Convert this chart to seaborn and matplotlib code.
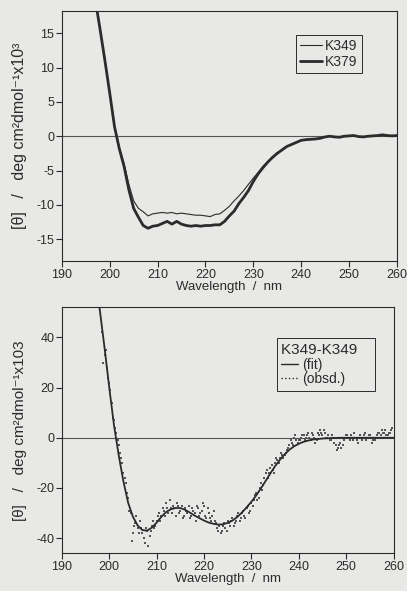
import numpy as np
import pandas as pd
import matplotlib
matplotlib.use("Agg")
import matplotlib.pyplot as plt
from matplotlib.lines import Line2D
import seaborn as sns

# ---------------- data ----------------
wl_top = list(range(197, 261))
k379 = [19.8, 15.5, 11.0, 6.3, 1.4, -1.8, -4.4, -7.8, -10.5, -11.8,
        -13.0, -13.4, -13.1, -13.0, -12.7, -12.4, -12.8, -12.4, -12.8, -13.0,
        -13.1, -13.0, -13.1, -13.0, -13.0, -12.9, -12.9, -12.4, -11.6, -10.9,
        -9.8, -8.9, -7.9, -6.6, -5.5, -4.6, -3.8, -3.1, -2.5, -2.0,
        -1.5, -1.2, -0.9, -0.6, -0.5, -0.45, -0.4, -0.3, -0.1, 0.0,
        -0.1, -0.15, 0.0, 0.05, 0.1, -0.05, -0.1, 0.0, 0.05, 0.1,
        0.2, 0.1, 0.05, 0.1]
k349 = [19.8, 15.5, 11.0, 6.3, 1.4, -1.6, -4.0, -7.0, -9.4, -10.5,
        -11.0, -11.6, -11.3, -11.2, -11.1, -11.2, -11.1, -11.3, -11.2, -11.3,
        -11.4, -11.5, -11.5, -11.6, -11.7, -11.4, -11.3, -10.8, -10.2, -9.4,
        -8.7, -7.9, -7.0, -6.1, -5.3, -4.4, -3.7, -3.0, -2.4, -2.0,
        -1.5, -1.2, -0.9, -0.6, -0.5, -0.45, -0.4, -0.3, -0.1, 0.0,
        -0.1, -0.15, 0.0, 0.05, 0.1, -0.05, -0.1, 0.0, 0.05, 0.1,
        0.2, 0.1, 0.05, 0.1]

wl_fit = list(range(197, 261))
fit = [62, 51, 36, 20, 5, -7, -17.5, -26, -31.5, -35,
       -36.8, -37, -35.8, -33.8, -31.5, -29.6, -28.5, -28, -28, -28.7,
       -29.8, -31, -32, -33, -33.8, -34.3, -34.6, -34.5, -33.9, -33,
       -31.6, -29.8, -27.7, -25.5, -23, -20.2, -17.2, -14.2, -11.3, -8.8,
       -6.6, -4.8, -3.4, -2.4, -1.6, -1.1, -0.7, -0.5, -0.3, -0.2,
       -0.1, -0.05, 0, 0, 0, 0, 0, 0, 0, 0,
       0, 0, 0, 0]

obs_a = [42, 33, 28, 22, 14, 7, 2, -3, -8, -14,
         -18, -24, -30, -38, -34, -36, -33, -38, -42, -37,
         -39, -35, -36, -33, -30, -31, -29, -26, -30, -28,
         -27, -31, -27, -29, -32, -28, -30, -32, -28, -30,
         -27, -31, -29, -27, -32, -30, -33, -29, -34, -37,
         -38, -35, -36, -33, -35, -32, -34, -31, -33, -30,
         -31, -28, -30, -26, -25, -22, -24, -18, -19, -14,
         -16, -12, -13, -10, -9, -8, -7, -7, -5, -3,
         -2, 0, -1, -1, 0, 1, 0, 2, -1, 1,
         -2, 2, 3, 1, 2, 0, -1, 1, -2, -5,
         -3, -4, -1, 1, 0, 1, -1, 0, -2, 1,
         0, 2, 0, 1, -2, -1, 1, 2, 3, 2,
         1, 2, 3]
obs_b = [30, 35, 24, 19, 8, 4, -1, -6, -10, -16,
         -22, -29, -41, -35, -31, -38, -36, -40, -36, -43,
         -37, -33, -35, -31, -33, -28, -31, -28, -25, -30,
         -28, -26, -30, -27, -31, -29, -27, -31, -29, -33,
         -28, -30, -26, -31, -28, -32, -31, -33, -36, -35,
         -37, -34, -37, -34, -33, -35, -33, -30, -32, -29,
         -32, -27, -29, -27, -23, -25, -20, -21, -16, -13,
         -14, -11, -14, -8, -10, -6, -8, -6, -4, -1,
         -3, 1, -2, -1, 1, -1, 1, 0, 2, 0,
         -1, 1, 2, 3, 0, 1, -1, 0, -3, -4,
         -2, -3, 0, 1, -1, 0, 2, -1, 0, -1,
         1, -1, 1, 0, -1, 0, 2, 1, 2, 3,
         1, 2, 4]
wl_obs_a = [198.5 + 0.5 * i for i in range(len(obs_a))]
wl_obs_b = [198.75 + 0.5 * i for i in range(len(obs_b))]

x_ticks = [190, 200, 210, 220, 230, 240, 250, 260]
top_yticks = [-15, -10, -5, 0, 5, 10, 15]
bot_yticks = [-40, -20, 0, 20, 40]

# ---------------- style ----------------
sns.set_style("ticks")
plt.rcParams['font.family'] = ['Liberation Sans', 'DejaVu Sans']
BG = '#e8e8e6'
INK = '#2b2b2b'
plt.rcParams.update({
    'axes.edgecolor': INK, 'xtick.color': INK, 'ytick.color': INK,
    'text.color': INK, 'axes.labelcolor': INK, 'axes.linewidth': 0.8,
    'xtick.major.size': 4, 'ytick.major.size': 4,
    'xtick.direction': 'out', 'ytick.direction': 'out',
    'axes.unicode_minus': False,
})

fig = plt.figure(figsize=(4.07, 5.91), dpi=100, facecolor=BG)
ax1 = fig.add_axes([0.152, 0.558, 0.823, 0.423], facecolor=BG)
ax2 = fig.add_axes([0.152, 0.064, 0.815, 0.416], facecolor=BG)

ylab_top = "[θ]   /   deg cm²dmol⁻¹x10³"
ylab_bot = "[θ]   /   deg cm²dmol⁻¹x103"

# top panel
df_top = pd.DataFrame({'wl': wl_top, 'K349': k349, 'K379': k379})
ax1.axhline(0, color='#555555', lw=0.8, zorder=1)
sns.lineplot(data=df_top, x='wl', y='K349', ax=ax1, color=INK, lw=0.8, label='K349')
sns.lineplot(data=df_top, x='wl', y='K379', ax=ax1, color=INK, lw=2.0, label='K379')
ax1.set_xlim(190, 260)
ax1.set_ylim(-18.2, 18.2)
ax1.set_xticks(x_ticks)
ax1.set_yticks(top_yticks)
ax1.set_xlabel("Wavelength  /  nm", fontsize=9.5, labelpad=0)
ax1.set_ylabel(ylab_top, fontsize=11.5, labelpad=7)
leg1 = ax1.legend(loc='upper right', bbox_to_anchor=(0.895, 0.905), frameon=True,
                  fancybox=False, edgecolor=INK, facecolor=BG, framealpha=1,
                  fontsize=10, handlelength=1.6, handletextpad=0.2,
                  borderpad=0.3, labelspacing=0.1, borderaxespad=0)
leg1.get_frame().set_linewidth(0.7)

# bottom panel
df_fit = pd.DataFrame({'wl': wl_fit, 'val': fit})
df_obs = pd.DataFrame({'wl': wl_obs_a + wl_obs_b, 'val': obs_a + obs_b})
ax2.axhline(0, color='#555555', lw=0.8, zorder=1)
sns.lineplot(data=df_fit, x='wl', y='val', ax=ax2, color=INK, lw=1.3)
sns.scatterplot(data=df_obs, x='wl', y='val', ax=ax2, color='#555555', s=2.5,
                marker='s', linewidth=0)
ax2.set_xlim(190, 260)
ax2.set_ylim(-46, 52)
ax2.set_xticks(x_ticks)
ax2.set_yticks(bot_yticks)
ax2.set_xlabel("Wavelength  /  nm", fontsize=9.5, labelpad=0)
ax2.set_ylabel(ylab_bot, fontsize=11, labelpad=7)
handles = [Line2D([], [], color=INK, lw=1.0), Line2D([], [], color=INK, lw=1.0, ls=':')]
leg2 = ax2.legend(handles, ['(fit)', '(obsd.)'], title='K349-K349   ',
                  loc='upper right', bbox_to_anchor=(0.945, 0.875), frameon=True,
                  fancybox=False, edgecolor=INK, facecolor=BG, framealpha=1,
                  fontsize=10, title_fontsize=11, handlelength=1.2,
                  handletextpad=0.3, borderpad=0.35, labelspacing=0.0,
                  borderaxespad=0, alignment='left')
leg2.get_frame().set_linewidth(0.7)
leg2._legend_box.sep = 1

for ax in (ax1, ax2):
    ax.tick_params(labelsize=9, pad=1.5, width=0.8)
    for s in ax.spines.values():
        s.set_visible(True)

fig.savefig("out.png", dpi=100, facecolor=BG)
